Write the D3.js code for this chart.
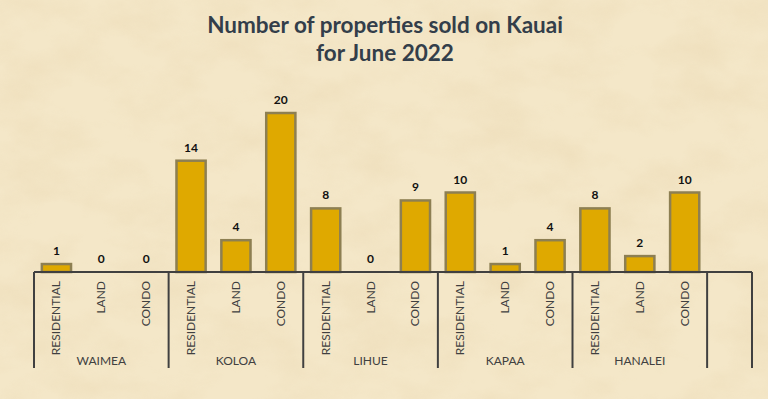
<!DOCTYPE html>
<html>
<head>
<meta charset="utf-8">
<script src="https://cdn.jsdelivr.net/npm/d3@7"></script>
<style>
  html, body { margin: 0; padding: 0; background: #f2e3c2; }
  svg { display: block; }
</style>
</head>
<body>
<svg id="chart"></svg>
<script>
const areas = ['WAIMEA', 'KOLOA', 'LIHUE', 'KAPAA', 'HANALEI']
const types = ['RESIDENTIAL', 'LAND', 'CONDO']
const residential = [1, 14, 8, 10, 8]
const land = [0, 4, 0, 1, 2]
const condo = [0, 20, 9, 4, 10]
const titleLines = ['Number of properties sold on Kauai', 'for June 2022']

const w = 768
const h = 399
const left = 34
const right = 752
const baseY = 272
const topY = 113
const axisBottom = 368
const font = 'Lato, "Open Sans", sans-serif'

const bySeries = { RESIDENTIAL: residential, LAND: land, CONDO: condo }
const rows = []
areas.forEach((area, i) => {
  types.forEach((type) => {
    rows.push({ key: area + '|' + type, area, type, value: bySeries[type][i] })
  })
})
// trailing empty slot, like the source chart
const keys = rows.map((d) => d.key).concat(['blank'])

const svg = d3.select('#chart').attr('width', w).attr('height', h)

// parchment background
const defs = svg.append('defs')
const f = defs.append('filter').attr('id', 'paper').attr('x', 0).attr('y', 0).attr('width', '100%').attr('height', '100%')
f.append('feTurbulence').attr('type', 'fractalNoise').attr('baseFrequency', '0.015 0.025').attr('numOctaves', 5).attr('seed', 7)
f.append('feColorMatrix').attr('type', 'matrix')
  .attr('values', '0 0 0 0 0.82  0 0 0 0 0.68  0 0 0 0 0.44  1.6 0 0 0 -0.62')
svg.append('rect').attr('width', w).attr('height', h).attr('fill', '#f4e7c8')
svg.append('rect').attr('width', w).attr('height', h).attr('filter', 'url(#paper)').attr('opacity', 0.55)

const x = d3.scaleBand().domain(keys).range([left, right]).paddingInner(0.35).paddingOuter(0.175)
const y = d3.scaleLinear().domain([0, 20]).range([baseY, topY])
const step = x.step()

// title
svg.append('text')
  .attr('x', 385)
  .attr('text-anchor', 'middle')
  .style('font-family', font)
  .style('font-weight', 700)
  .style('font-size', '22.5px')
  .attr('fill', '#333e4a')
  .selectAll('tspan')
  .data(titleLines)
  .join('tspan')
  .attr('x', 385)
  .attr('y', (d, i) => 33 + i * 28)
  .text((d) => d)

// bars
svg.append('g')
  .selectAll('rect')
  .data(rows.filter((d) => d.value > 0))
  .join('rect')
  .attr('x', (d) => x(d.key))
  .attr('width', x.bandwidth())
  .attr('y', (d) => y(d.value))
  .attr('height', (d) => baseY - y(d.value))
  .attr('fill', '#dfa900')
  .attr('stroke', '#8d7f52')
  .attr('stroke-width', 2.5)

// value labels
svg.append('g')
  .selectAll('text')
  .data(rows)
  .join('text')
  .attr('x', (d) => x(d.key) + x.bandwidth() / 2)
  .attr('y', (d) => y(d.value) - 9)
  .attr('text-anchor', 'middle')
  .style('font-family', font)
  .style('font-weight', 700)
  .style('font-size', '12px')
  .attr('fill', '#111')
  .text((d) => d.value)

// axis line
svg.append('line')
  .attr('x1', left).attr('x2', right)
  .attr('y1', baseY).attr('y2', baseY)
  .attr('stroke', '#404040').attr('stroke-width', 2)

// group dividers
const dividers = d3.range(areas.length + 1).map((i) => left + i * step * 3).concat([right])
svg.append('g')
  .selectAll('line')
  .data(dividers)
  .join('line')
  .attr('x1', (d) => d).attr('x2', (d) => d)
  .attr('y1', baseY).attr('y2', axisBottom)
  .attr('stroke', '#404040').attr('stroke-width', 2)

// category labels
svg.append('g')
  .selectAll('text')
  .data(rows)
  .join('text')
  .attr('transform', (d) => `translate(${x(d.key) + x.bandwidth() / 2 + 4},281) rotate(-90)`)
  .attr('text-anchor', 'end')
  .style('font-family', font)
  .style('font-size', '12px')
  .attr('fill', '#404040')
  .text((d) => d.type)

// area labels
svg.append('g')
  .selectAll('text')
  .data(areas)
  .join('text')
  .attr('x', (d, i) => left + (i + 0.5) * step * 3)
  .attr('y', 365)
  .attr('text-anchor', 'middle')
  .style('font-family', font)
  .style('font-size', '12px')
  .attr('fill', '#404040')
  .text((d) => d)
</script>
</body>
</html>
